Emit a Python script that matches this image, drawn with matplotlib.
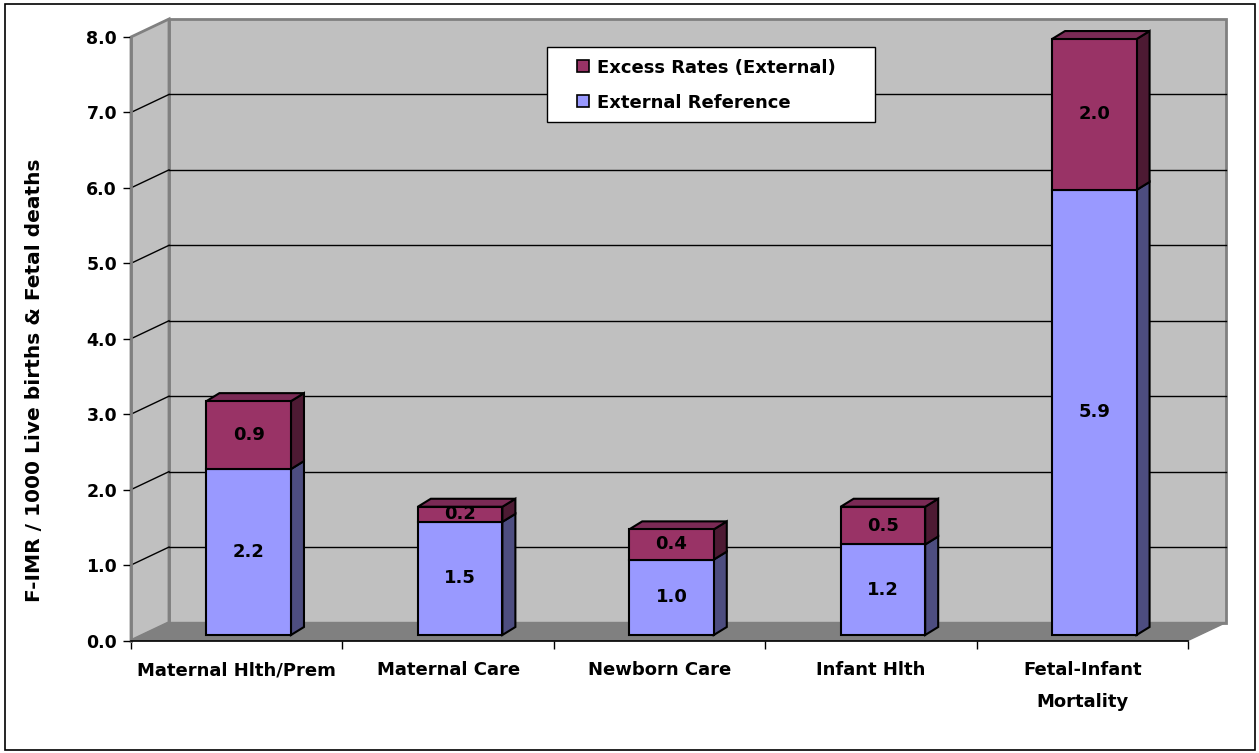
import matplotlib
matplotlib.use("Agg")
import matplotlib.pyplot as plt
from matplotlib.patches import Polygon, Rectangle
from matplotlib.transforms import Affine2D

# ---- data ----
categories = ["Maternal Hlth/Prem", "Maternal Care", "Newborn Care",
              "Infant Hlth", "Fetal-Infant\nMortality"]
external_reference = [2.2, 1.5, 1.0, 1.2, 5.9]
excess_rates = [0.9, 0.2, 0.4, 0.5, 2.0]
y_ticks = [0, 1, 2, 3, 4, 5, 6, 7, 8]
y_title = "F-IMR / 1000 Live births & Fetal deaths"
series_names = ["Excess Rates (External)", "External Reference"]

# ---- style ----
W, H, DPI = 1259, 753, 100
FONT = "DejaVu Sans"
BLUE, BLUE_SIDE = "#9999ff", "#4d4d80"
RED, RED_SIDE, RED_TOP = "#993366", "#4d1a33", "#7a2a55"
WALL, FLOOR, EDGE = "#c0c0c0", "#808080", "#808080"

fig = plt.figure(figsize=(W / DPI, H / DPI), dpi=DPI)
fig.patch.set_facecolor("white")

# pixel transform (origin top-left) for figure furniture
px = Affine2D().scale(1 / W, -1 / H).translate(0, 1) + fig.transFigure

# front plane of the plot area
left_px, right_px, top_px, zero_px = 131, 1188, 37, 640.5
ax = fig.add_axes([left_px / W, (H - zero_px) / H,
                   (right_px - left_px) / W, (zero_px - top_px) / H])
n = len(categories)
ax.set_xlim(-0.5, n - 0.5)
ax.set_ylim(0, 8)
ax.set_facecolor("none")

px_x = (right_px - left_px) / n          # pixels per category unit
px_y = (zero_px - top_px) / 8.0          # pixels per value unit

# depth offsets, converted from pixels to data units
wall_dx, wall_dy = 38 / px_x, 18 / px_y
bar_off_dx, bar_off_dy = 12 / px_x, 5.5 / px_y
bar_dx, bar_dy = 13 / px_x, 8 / px_y
bar_w = 0.4

x0, x1 = -0.5, n - 0.5
ymax = 8

# back wall
ax.add_patch(Polygon([(x0 + wall_dx, wall_dy), (x1 + wall_dx, wall_dy),
                      (x1 + wall_dx, ymax + wall_dy), (x0 + wall_dx, ymax + wall_dy)],
                     closed=True, facecolor=WALL, edgecolor=EDGE, lw=2,
                     clip_on=False, zorder=1))
# side wall
ax.add_patch(Polygon([(x0, 0), (x0 + wall_dx, wall_dy),
                      (x0 + wall_dx, ymax + wall_dy), (x0, ymax)],
                     closed=True, facecolor=WALL, edgecolor=EDGE, lw=2,
                     clip_on=False, zorder=1))
# gridlines on walls
for v in y_ticks[1:-1]:
    ax.plot([x0 + wall_dx, x1 + wall_dx], [v + wall_dy, v + wall_dy],
            color="black", lw=1, clip_on=False, zorder=2)
    ax.plot([x0, x0 + wall_dx], [v, v + wall_dy],
            color="black", lw=1, clip_on=False, zorder=2)
# floor
ax.add_patch(Polygon([(x0, 0), (x0 + wall_dx, wall_dy),
                      (x1 + wall_dx, wall_dy), (x1, 0)],
                     closed=True, facecolor=FLOOR, edgecolor=FLOOR, lw=1,
                     clip_on=False, zorder=2))


def draw_box(xl, yb, yt, front, side, top=None):
    xr = xl + bar_w
    ax.add_patch(Polygon([(xr, yb), (xr + bar_dx, yb + bar_dy),
                          (xr + bar_dx, yt + bar_dy), (xr, yt)],
                         closed=True, facecolor=side, edgecolor="black",
                         lw=1.5, clip_on=False, zorder=4))
    if top is not None:
        ax.add_patch(Polygon([(xl, yt), (xr, yt), (xr + bar_dx, yt + bar_dy),
                              (xl + bar_dx, yt + bar_dy)],
                             closed=True, facecolor=top, edgecolor="black",
                             lw=1.5, clip_on=False, zorder=4))
    ax.add_patch(Rectangle((xl, yb), bar_w, yt - yb, facecolor=front,
                           edgecolor="black", lw=1.5, clip_on=False, zorder=5))


for i, (base, extra) in enumerate(zip(external_reference, excess_rates)):
    xl = i + bar_off_dx - bar_w / 2
    yb = bar_off_dy
    draw_box(xl, yb, yb + base, BLUE, BLUE_SIDE)
    draw_box(xl, yb + base, yb + base + extra, RED, RED_SIDE, RED_TOP)
    cx = xl + bar_w / 2
    ax.text(cx, yb + base / 2, f"{base:.1f}", ha="center", va="center",
            fontsize=13, fontweight="bold", family=FONT, zorder=6)
    ax.text(cx, yb + base + extra / 2, f"{extra:.1f}", ha="center", va="center",
            fontsize=13, fontweight="bold", family=FONT, zorder=6)

# axes: spines and ticks
for s in ["top", "right"]:
    ax.spines[s].set_visible(False)
ax.spines["left"].set_color(EDGE)
ax.spines["left"].set_linewidth(2)
ax.spines["bottom"].set_color("black")
ax.spines["bottom"].set_linewidth(1.2)
ax.spines["left"].set_zorder(3)
ax.spines["bottom"].set_zorder(3)

ax.set_yticks(y_ticks)
ax.set_yticklabels([f"{v:.1f}" for v in y_ticks], fontsize=12.5,
                   fontweight="bold", family=FONT)
ax.tick_params(axis="y", length=6, width=1, color="black", pad=4)

ax.set_xticks(range(n))
ax.set_xticklabels(categories, fontsize=13, fontweight="bold", family=FONT,
                   linespacing=2.0)
ax.set_xticks([k - 0.5 for k in range(n + 1)], minor=True)
ax.tick_params(axis="x", which="major", length=0, pad=15)
ax.tick_params(axis="x", which="minor", length=6, width=1, color="black")

# y-axis title
fig.text(35, 380, y_title, transform=px, rotation=90, ha="center",
         va="center", fontsize=14.5, fontweight="bold", family=FONT)

# legend box
fig.add_artist(Rectangle((547, 47), 328, 75, transform=px, facecolor="white",
                         edgecolor="black", lw=1, zorder=10))
for k, (name, color) in enumerate(zip(series_names, [RED, BLUE])):
    yc = 66 + 35 * k
    fig.add_artist(Rectangle((577, yc - 6), 12, 12, transform=px,
                             facecolor=color, edgecolor="black", lw=1.2,
                             zorder=11))
    fig.text(597, yc, name, transform=px, ha="left", va="center_baseline",
             fontsize=13, fontweight="bold", family=FONT, zorder=12)

# outer frame
fig.add_artist(Rectangle((5, 4), 1250, 746, transform=px, fill=False,
                         edgecolor="black", lw=1.2))

fig.savefig("out.png", dpi=DPI)
